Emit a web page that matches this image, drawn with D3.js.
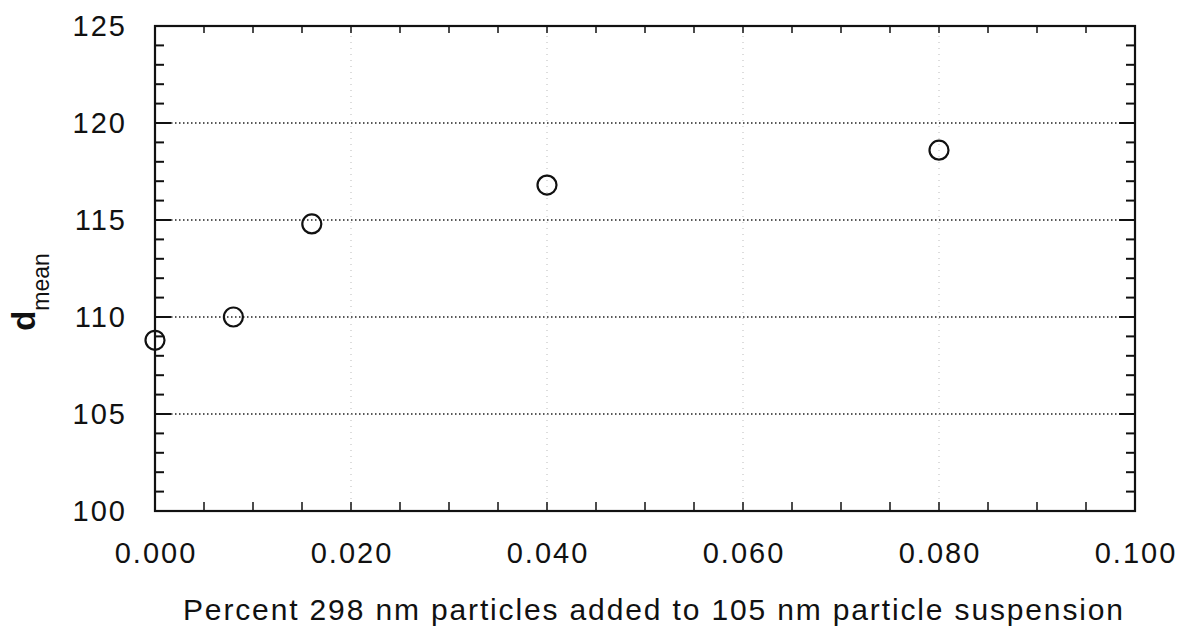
<!DOCTYPE html>
<html>
<head>
<meta charset="utf-8">
<script src="https://cdn.jsdelivr.net/npm/d3@7"></script>
<style>
  body { margin: 0; background: #fff; }
  svg text { font-family: "Liberation Sans", Arial, sans-serif; fill: #111; }
</style>
</head>
<body>
<div id="chart"></div>
<script>
// values
const percentAdded = [0.000, 0.008, 0.016, 0.040, 0.080];
const dMean = [108.8, 110.0, 114.8, 116.8, 118.6];
const xTicks = [0.000, 0.020, 0.040, 0.060, 0.080, 0.100];
const yTicks = [100, 105, 110, 115, 120, 125];
const yGrid = [105, 110, 115, 120];
const xGrid = [0.020, 0.040, 0.060, 0.080];

let size = {width: 1182, height: 635};
let margins = {top: 26, right: 47, bottom: 124, left: 155};

function drawChart(el){
  let svg = d3.select(el).append('svg')
    .attr('width', size.width)
    .attr('height', size.height);

  let w = size.width - margins.left - margins.right;
  let h = size.height - margins.top - margins.bottom;

  let x = d3.scaleLinear().domain([0, 0.1]).range([margins.left, margins.left + w]);
  let y = d3.scaleLinear().domain([100, 125]).range([margins.top + h, margins.top]);

  let g = svg.append('g');

  // dotted grid
  g.selectAll('.hgrid').data(yGrid).enter().append('line')
    .attr('x1', x(0)).attr('x2', x(0.1))
    .attr('y1', d => y(d)).attr('y2', d => y(d))
    .attr('stroke', '#222').attr('stroke-width', 1.3)
    .attr('stroke-dasharray', '1.5,2.5');
  g.selectAll('.vgrid').data(xGrid).enter().append('line')
    .attr('x1', d => x(d)).attr('x2', d => x(d))
    .attr('y1', y(100)).attr('y2', y(125))
    .attr('stroke', '#bbb').attr('stroke-width', 1)
    .attr('stroke-dasharray', '1,5');

  // minor/major ticks on all four sides, pointing in
  let yMinor = d3.range(100, 125.01, 1);
  let xMinor = d3.range(0, 0.1001, 0.005);
  yMinor.forEach(v => {
    let len = v % 5 === 0 ? 16 : 9;
    g.append('line').attr('x1', x(0)).attr('x2', x(0) + len)
      .attr('y1', y(v)).attr('y2', y(v)).attr('stroke', '#111').attr('stroke-width', 2);
    g.append('line').attr('x1', x(0.1)).attr('x2', x(0.1) - len)
      .attr('y1', y(v)).attr('y2', y(v)).attr('stroke', '#111').attr('stroke-width', 2);
  });
  xMinor.forEach(v => {
    g.append('line').attr('x1', x(v)).attr('x2', x(v))
      .attr('y1', y(100)).attr('y2', y(100) - 9).attr('stroke', '#111').attr('stroke-width', 1.5);
    g.append('line').attr('x1', x(v)).attr('x2', x(v))
      .attr('y1', y(125)).attr('y2', y(125) + 7).attr('stroke', '#111').attr('stroke-width', 1.5);
  });

  // frame
  g.append('rect')
    .attr('x', x(0)).attr('y', y(125))
    .attr('width', w).attr('height', h)
    .attr('fill', 'none').attr('stroke', '#111').attr('stroke-width', 2.2);

  // tick labels
  g.selectAll('.ylab').data(yTicks).enter().append('text')
    .attr('x', x(0) - 28).attr('y', d => y(d))
    .attr('dy', '0.35em').attr('text-anchor', 'end')
    .style('font-size', '29px').style('letter-spacing', '2px')
    .text(d => d);
  g.selectAll('.xlab').data(xTicks).enter().append('text')
    .attr('x', d => x(d) + 1).attr('y', 563)
    .attr('text-anchor', 'middle')
    .style('font-size', '29px').style('letter-spacing', '2px')
    .text(d => d3.format('.3f')(d));

  // axis titles
  g.append('text')
    .attr('x', 183).attr('y', 620)
    .attr('textLength', 940).attr('lengthAdjust', 'spacing')
    .style('font-size', '30px')
    .text('Percent 298 nm particles added to 105 nm particle suspension');

  let yt = g.append('text')
    .attr('transform', 'translate(35,292) rotate(-90)')
    .attr('text-anchor', 'middle');
  yt.append('tspan').style('font-size', '33px').style('font-weight', 'bold').text('d');
  yt.append('tspan').attr('dy', 14).style('font-size', '23px').text('mean');

  // data points
  g.selectAll('circle.pt').data(percentAdded).enter().append('circle')
    .attr('class', 'pt')
    .attr('cx', d => x(d))
    .attr('cy', (d, i) => y(dMean[i]))
    .attr('r', 9.5)
    .attr('fill', 'none').attr('stroke', '#111').attr('stroke-width', 2.2);
}

drawChart('#chart');
</script>
</body>
</html>
